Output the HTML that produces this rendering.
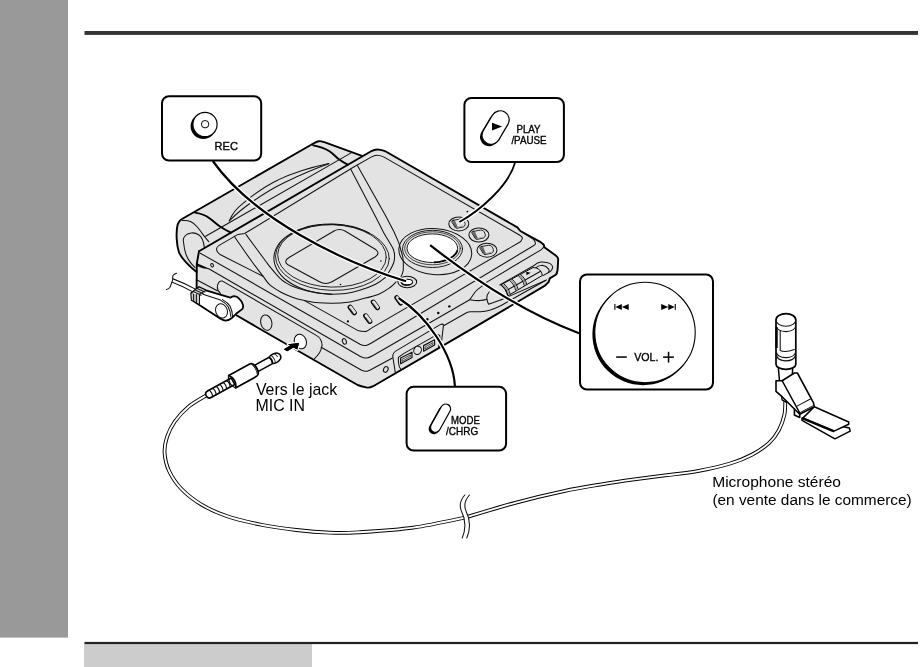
<!DOCTYPE html>
<html lang="fr">
<head>
<meta charset="utf-8">
<title>Microphone stéréo</title>
<style>
html,body{margin:0;padding:0;background:#fff;}
body{width:922px;height:667px;overflow:hidden;position:relative;font-family:"Liberation Sans",sans-serif;}
#side{position:absolute;left:0;top:0;width:68px;height:637px;background:#999;}
#tab{position:absolute;left:84px;top:644px;width:228px;height:23px;background:#ccc;}
svg{position:absolute;left:0;top:0;will-change:transform;}
.t{font-family:"Liberation Sans",sans-serif;fill:#000;}
.lbl{font-family:"Liberation Sans",sans-serif;fill:#000;stroke:#000;stroke-width:.35;}
.k{stroke:#000;stroke-width:1.9;fill:none;stroke-linecap:round;stroke-linejoin:round;}
.m{stroke:#000;stroke-width:1.4;fill:none;stroke-linecap:round;stroke-linejoin:round;}
.n{stroke:#111;stroke-width:1.05;fill:none;stroke-linecap:round;stroke-linejoin:round;}
.g{fill:#e3e3e3;}
.w{fill:#fff;}
.box{fill:#fff;stroke:#000;stroke-width:2;}
.halo{stroke:#fff;stroke-width:4.8;fill:none;}
</style>
</head>
<body>
<div id="side"></div>
<div id="tab"></div>
<svg width="922" height="667" viewBox="0 0 922 667">
<rect x="0" y="636" width="68" height="1.6" fill="#999"/>
<rect x="84.5" y="31" width="833.5" height="3.9" fill="#333"/>
<rect x="84.5" y="641.9" width="833.5" height="2.2" fill="#222"/>
<g id="device">
<!-- back part fill -->
<path class="g" d="M196.6,272 C190,267 181,258 178.9,252 C176.5,245 175.8,232 177.6,224.7 C178.5,222 180,220 182,219 L311.2,144.8 C314,143 316.5,141.4 319,141.2 C321,141 322.5,141.6 324.3,142.2 L362,155.8 L366,160 L199,252 Z"/>
<!-- main body fill -->
<path class="g" id="bodyfill" d="M199,251.3 L371.1,151.3 C374,149.6 376.5,149.2 378.9,149.6 C381.5,150 383.5,150.4 385.4,151.3 L517.4,227.4 L520.4,231 L540.2,241.8 L543.8,244.8 L544.4,247.2 L555.8,255.6 C557.5,257 558.2,258 558.2,259.2 L557.6,270 C557.2,272.5 556.6,274 555.8,274.8 L549.8,278.4 L548.6,282 L545,285.6 L476.9,325.9 L373.2,386.2 C370.5,387.6 368.4,388 366,387.4 L357.6,385 L260,329 L236.8,315.5 L196.6,287.5 L196.6,263.7 Z"/>
<!-- back part outline -->
<path class="k" d="M196.6,272 C190,267 181,258 178.9,252 C176.5,245 175.8,232 177.6,224.7 C178.5,222 180,220 182,219 L311.2,144.8 C314,143 316.5,141.4 319,141.2 C321,141 322.5,141.6 324.3,142.2 L362,155.8"/>
<!-- cylinder band thick curve left -->
<path class="k" style="stroke-width:1.9" d="M195.1,212.6 C201,213.5 206,215.5 209.5,218.2 C214,221.5 217,224.5 221.2,227.3 C224,229.2 227.5,231 230.9,232.6"/>
<!-- cylinder band thick curve right -->
<path class="k" style="stroke-width:1.9" d="M313.2,145.4 C320,146.5 325,148.5 329.5,151.3 C333,153.5 335.5,156.5 338.6,159.1 C341.5,161.3 344.5,163.2 347.7,164.7"/>
<!-- thin companion curves -->
<path class="n" d="M182.3,220.6 C186,220.3 189,220.9 191,221.8 C193.5,223 195.5,224.8 197.3,227 C199.8,230 201.8,232.8 203.6,235.4 C205.5,237.8 207.3,239.8 208.8,241.7"/>
<!-- inner ellipse on cylinder end -->
<path class="n" d="M204.3,247.4 C203.8,243 202,237 199,235 C196,233 193.5,232.6 191.2,233 C188.5,233.5 186.5,234.3 185.4,235.5 C183.5,237.5 183,239.5 183.4,241.5 C184,247 184.8,251 186,254.5 C188,259.5 191,264 195.1,267.6"/>
<!-- thin straight line along back part -->
<path class="n" d="M205.6,236.3 L351.6,152.6"/>
<!-- swoosh -->
<path class="n" d="M229.3,220.9 C232,214 237,208 243,203.4 C253,195 265,186 278.1,179.9 C291,173.5 305,168.5 328.8,163.4"/>
<path class="n" d="M229.3,220.9 C236,214 244,207.5 252,202 C262,195 273,188 284.6,182.5 C297,176.5 311,170 328.8,163.8"/>
<!-- lid outline -->
<path class="k" d="M199,251.3 L371.1,151.3 C374,149.6 376.5,149.2 378.9,149.6 C381.5,150 383.5,150.4 385.4,151.3 L517.4,227.4 L520.4,231 L540.2,241.8 L543.8,244.8 L544.4,247.2 L555.8,255.6 C557.5,257 558.2,258 558.2,259.2 L557.6,270 C557.2,272.5 556.6,274 555.8,274.8 L549.8,278.4 L548.6,282 L545,285.6 L476.9,325.9 L373.2,386.2 C370.5,387.6 368.4,388 366,387.4 C363,386.8 360,386 357.6,385 L260,329 L236.8,315.5"/>
<path class="k" d="M199,251.3 L196.8,263.7 L196.6,288"/>
<!-- gap wedge on left side -->
<path d="M197,263.6 L208.8,268.8 L203,268 L197,265.8 Z" fill="#000" stroke="#000" stroke-width=".6"/>
<!-- inner border of top face -->
<path class="n" d="M263,276.3 L222.5,255.8 C219,254 216.3,251.5 216.6,248.7 C216.9,246.8 218.5,245.5 221.2,244.1 L238.1,234.4 L244.6,233.5 L352.9,167.5 L371.1,157.1 C374,155.4 376,155 377.6,155.2 C380,155.4 382,156 384.1,157.1 L519.8,235.2 C522,236.6 522.8,237.8 522.2,238.8 C521.8,240 521,241 520.4,241.8 L371,328.4 C368.5,330.2 367,331.8 364.8,331.6 C362.5,331.4 360,331 357.6,330.4 L304.5,300.6"/>
<!-- C2 top face front edge -->
<path class="n" d="M200.3,253.2 L360,344.2 C362.5,345.4 364,345.8 366,345.4 C367.5,345 369,344.5 371,343.3 L533,246 C535,244.8 535.8,243.8 535.4,243 C535,241.5 534.5,240.5 533.6,239.4 L521,231.6"/>
<!-- C3 lid bottom -->
<path class="n" d="M208.8,268.8 L360,356.2 C363,357.8 365,358.4 367.2,358 C369,357.6 371,356.6 373,355.5 L469.7,299.7 C472,297 473.5,294 475.1,292 C477,289.8 479,288.2 481.4,286.6 L486.8,282.1 L541.4,249.6 C543,248.4 543.9,246.8 543.8,245.4"/>
<!-- C4 body line -->
<path class="n" d="M196.6,279.8 L217.3,290.8 M321.2,347.3 L361.2,370 C363.5,371.2 365.3,371.6 367.2,371.2 C369,370.6 371,369.6 373,368.5 L392.4,358 M443.6,325.8 L466,313 C468,312 469.5,311.8 470.6,311.8 L480.5,311.8 C484,311.6 487,311 490.4,310 C494,308.8 497.5,307.3 501.2,305.5 L520,294.7 L545.5,280.5"/>
<!-- finger recess -->
<path class="n" d="M469.7,299.7 C473,300.3 476,300.6 479.6,300.6 C482,300.4 484.5,300 486.8,299.2"/>
<path class="n" d="M489.1,292 C487.3,294 486.6,296 486.8,298.3 C487,300.5 487.6,302.5 488.6,304.2 L501.2,299.7"/>
<!-- V groove / ring -->
<path class="n" d="M369.4,233.2 C368.0,232.6 364.1,230.6 361.2,229.5 C358.4,228.4 355.3,227.4 352.2,226.6 C349.1,225.9 345.8,225.2 342.5,224.8 C339.2,224.4 335.9,224.1 332.5,224.0 C329.2,223.9 325.8,224.0 322.5,224.3 C319.2,224.5 315.9,225.0 312.7,225.6 C309.6,226.2 306.5,227.0 303.6,228.0 C300.6,228.9 297.8,230.0 295.2,231.3 C292.6,232.5 290.2,233.9 288.0,235.4 C285.8,236.9 283.8,238.5 282.1,240.2 C280.4,242.0 278.9,243.8 277.7,245.7 C276.5,247.6 275.6,249.5 275.0,251.5 C274.3,253.5 274.0,255.6 273.9,257.6 C273.9,259.6 274.1,261.7 274.6,263.7 C275.2,265.7 276.0,267.7 277.1,269.7 C278.2,271.6 279.6,273.5 281.2,275.3 C282.8,277.1 284.7,278.9 286.8,280.5 C288.9,282.1 291.3,283.6 293.8,285.0 C296.3,286.4 299.1,287.6 302.0,288.7 C304.8,289.8 307.9,290.8 311.0,291.6 C314.1,292.3 317.4,293.0 320.7,293.4 C324.0,293.8 326.5,294.2 330.7,294.2 C334.8,294.2 340.8,294.0 345.6,293.4 C350.5,292.7 354.8,291.7 359.6,290.2 C364.5,288.8 370.8,286.6 375.0,284.5 C379.2,282.4 382.2,280.1 384.8,277.8 C387.2,275.4 388.5,272.7 390.0,270.2 C391.5,267.8 392.8,265.2 393.6,263.0 C394.4,260.8 394.6,259.0 394.6,256.8 C394.6,254.6 394.4,252.2 393.6,250.0 C392.8,247.8 391.7,246.3 390.0,243.3 C388.3,240.3 385.9,236.7 383.3,232.0 C380.8,227.3 380.1,225.4 374.7,215.0 C369.3,204.6 354.9,177.1 350.9,169.5"/>
<path class="n" d="M234.2,236.3 C237.2,240.6 247.4,255.4 252.2,262.0 C257.0,268.6 260.1,272.3 263.0,276.1 C265.9,279.9 266.6,282.0 269.6,284.7 C272.6,287.4 277.2,290.2 281.0,292.3 C284.8,294.4 288.5,295.8 292.4,297.2 C296.3,298.6 300.7,299.7 304.5,300.6 C308.3,301.5 310.6,302.1 315.2,302.5 C319.8,302.9 326.2,303.4 332.0,303.3 C337.8,303.2 345.3,302.6 350.0,302.0 C354.7,301.4 355.2,300.8 360.0,299.5 C364.8,298.2 373.8,296.2 378.8,294.2 C383.8,292.2 387.1,289.6 390.0,287.5 C392.9,285.4 395.0,282.8 396.0,281.9"/>
<path class="n" d="M357.4,165.6 L385.2,215 L394.1,232 L398.6,242.4 C399.6,245 400.3,247.5 400.8,250 C401.8,253 402.6,256 403.1,259 C403.4,263 403.4,267 403.2,270.5 C402.8,273 402,275 401,276.5"/>
<path class="n" d="M245.9,234.4 C249.3,239.0 262.1,256.4 266.3,262.0 C270.5,267.6 268.9,265.5 271.1,268.2 C273.4,270.9 277.6,275.9 279.8,278.2 C282.1,280.5 282.5,280.7 284.6,282.0 C286.7,283.3 288.6,284.7 292.4,286.2 C296.2,287.7 302.6,289.8 307.6,291.0 C312.7,292.2 318.6,293.1 322.7,293.6 C326.8,294.1 330.4,294.1 332.0,294.2"/>
<!-- disc ring ellipses -->
<ellipse class="n" cx="332.4" cy="257.4" rx="56.9" ry="33" transform="rotate(1.5 332.4 257.4)" style="stroke-width:.9"/>
<ellipse class="n" cx="332" cy="255.9" rx="54.3" ry="31.2" transform="rotate(1.5 332 255.9)" style="stroke-width:.9"/>
<!-- window -->
<path class="n" d="M334,231 L289,257.5 C285,260 284.5,262.5 288,264.8 L319.5,281.8 C323.5,284 328,284 332,281.8 L375,257 C378.5,254.8 379,252 376,249.8 L345,231 C341.5,229 337.5,229 334,231 Z"/>
<circle cx="380.9" cy="261" r=".8" fill="#000"/><circle cx="340.5" cy="284.5" r=".8" fill="#000"/>
<!-- jog dial -->
<ellipse class="n" cx="435.3" cy="251.6" rx="36.5" ry="23" transform="rotate(5 435.3 251.6)"/>
<ellipse class="n" cx="432.5" cy="248.9" rx="30" ry="18.6" style="stroke-width:.95"/>
<ellipse class="n" cx="432.5" cy="248.3" rx="27.8" ry="16.5" style="stroke-width:.75"/>
<ellipse class="w" cx="432.3" cy="248.2" rx="25.3" ry="14.3" stroke="#000" stroke-width=".9"/>
<path d="M457.4,250.5 C456,256 447,261.5 434,262.4" fill="none" stroke="#000" stroke-width="1.7"/>
<!-- buttons -->

<g transform="translate(458.8 223.9)">
<ellipse class="n" cx="0" cy="0" rx="10" ry="7" style="fill:#e3e3e3"/>
<path class="n" d="M-5.6,-3.6 L1.4,-4.9 C3.8,-5.1 5.2,-3.8 5.8,-2 C6.3,-0.6 6.6,0.1 6.4,0.8 C6.2,1.9 5.5,2.7 4.6,3 L-2,4.4 C-2.9,4.4 -3.4,4 -3.7,3.4 L-7,-2 C-7.3,-3 -6.6,-3.5 -5.6,-3.6 Z" style="stroke-width:.9"/>
<path d="M-6.3,-2.9 L-3,3.5 M-5.4,-3.3 L-2.2,3.7 M-4.5,-3.5 L-1.5,3.3" stroke="#222" stroke-width=".7" fill="none"/>
<path d="M-1.8,3.5 L4.4,2.1" stroke="#888" stroke-width=".6" fill="none"/>
</g><g transform="translate(478.9 235)">
<ellipse class="n" cx="0" cy="0" rx="10" ry="7" style="fill:#e3e3e3"/>
<path class="n" d="M-5.6,-3.6 L1.4,-4.9 C3.8,-5.1 5.2,-3.8 5.8,-2 C6.3,-0.6 6.6,0.1 6.4,0.8 C6.2,1.9 5.5,2.7 4.6,3 L-2,4.4 C-2.9,4.4 -3.4,4 -3.7,3.4 L-7,-2 C-7.3,-3 -6.6,-3.5 -5.6,-3.6 Z" style="stroke-width:.9"/>
<path d="M-6.3,-2.9 L-3,3.5 M-5.4,-3.3 L-2.2,3.7 M-4.5,-3.5 L-1.5,3.3" stroke="#222" stroke-width=".7" fill="none"/>
<path d="M-1.8,3.5 L4.4,2.1" stroke="#888" stroke-width=".6" fill="none"/>
</g><g transform="translate(487 250.2)">
<ellipse class="n" cx="0" cy="0" rx="10" ry="7" style="fill:#e3e3e3"/>
<path class="n" d="M-5.6,-3.6 L1.4,-4.9 C3.8,-5.1 5.2,-3.8 5.8,-2 C6.3,-0.6 6.6,0.1 6.4,0.8 C6.2,1.9 5.5,2.7 4.6,3 L-2,4.4 C-2.9,4.4 -3.4,4 -3.7,3.4 L-7,-2 C-7.3,-3 -6.6,-3.5 -5.6,-3.6 Z" style="stroke-width:.9"/>
<path d="M-6.3,-2.9 L-3,3.5 M-5.4,-3.3 L-2.2,3.7 M-4.5,-3.5 L-1.5,3.3" stroke="#222" stroke-width=".7" fill="none"/>
<path d="M-1.8,3.5 L4.4,2.1" stroke="#888" stroke-width=".6" fill="none"/>
</g>
<!-- REC button -->
<ellipse class="n" cx="407.3" cy="282" rx="9.4" ry="5.7" style="fill:#e3e3e3"/>
<ellipse cx="406.6" cy="282.6" rx="5.9" ry="3.3" fill="#222"/>
<ellipse class="n" cx="407.2" cy="282" rx="5.4" ry="2.8" style="stroke-width:1.1;fill:#fff"/>
<!-- MODE button -->
<path d="M396.6,297.6 L400.8,303.2" stroke="#000" stroke-width="4.8" stroke-linecap="round" fill="none"/>
<path d="M397.1,297.5 L401.1,302.7" stroke="#e3e3e3" stroke-width="2.8" stroke-linecap="round" fill="none"/>
<path d="M395.5,299.2 L399.2,304.2" stroke="#222" stroke-width=".8" fill="none"/>
<!-- small pill buttons -->

<g transform="translate(352.2 310)"><path d="M-2.1,-2.8 L2.1,2.8" stroke="#000" stroke-width="5" stroke-linecap="round" fill="none"/><path d="M-1.7,-2.9 L2.3,2.4" stroke="#e3e3e3" stroke-width="3" stroke-linecap="round" fill="none"/><path d="M-3.3,-1.2 L0.4,3.9 M-2.5,-1.8 L1.3,3.4" stroke="#222" stroke-width=".7" fill="none"/></g><g transform="translate(367.7 318.6)"><path d="M-2.1,-2.8 L2.1,2.8" stroke="#000" stroke-width="5" stroke-linecap="round" fill="none"/><path d="M-1.7,-2.9 L2.3,2.4" stroke="#e3e3e3" stroke-width="3" stroke-linecap="round" fill="none"/><path d="M-3.3,-1.2 L0.4,3.9 M-2.5,-1.8 L1.3,3.4" stroke="#222" stroke-width=".7" fill="none"/></g><g transform="translate(375.3 304.9)"><path d="M-2.1,-2.8 L2.1,2.8" stroke="#000" stroke-width="5" stroke-linecap="round" fill="none"/><path d="M-1.7,-2.9 L2.3,2.4" stroke="#e3e3e3" stroke-width="3" stroke-linecap="round" fill="none"/><path d="M-3.3,-1.2 L0.4,3.9 M-2.5,-1.8 L1.3,3.4" stroke="#222" stroke-width=".7" fill="none"/></g>
<!-- dots and screws -->
<g fill="#000"><circle cx="347.9" cy="321.4" r="1.1"/><circle cx="427.3" cy="319.2" r="1.2"/><circle cx="438.3" cy="313" r="1.2"/><circle cx="449.4" cy="306.4" r="1.2"/><circle cx="467.4" cy="211.6" r=".9"/></g>
<ellipse class="n" cx="212.1" cy="265.2" rx="1.3" ry="1.8" transform="rotate(-20 212.1 265.2)"/>
<ellipse class="n" cx="344.4" cy="341.4" rx="1.9" ry="2.9" transform="rotate(-20 344.4 341.4)"/>
<ellipse class="n" cx="385.8" cy="369.4" rx="2.2" ry="3" transform="rotate(25 385.8 369.4)"/>
<!-- jacks -->
<ellipse class="n" cx="266.3" cy="322.6" rx="5.5" ry="7.8" transform="rotate(-15 266.3 322.6)"/>
<!-- recess -->
<path class="n" d="M220.5,293.4 C217.5,291 217,288 217.5,285.5 C218,282.5 220,280.5 222.5,281.1 L315.9,335.1 C318.5,336.5 320,338 320.8,340 C322,342.5 322.3,344.5 321.8,346.5 C321.3,349 320.5,351 319.5,352.8 C318,355 316.5,357 314.5,358.6"/>
<ellipse class="w" cx="300.4" cy="341.5" rx="5.9" ry="7.5" transform="rotate(-20 300.4 341.5)" stroke="#000" stroke-width="1"/>
<!-- arrow -->
<path d="M283.8,349.3 L290.2,345.4 L287.9,344.2 L299,342.9 L297.3,349.6 L293.5,347.5 L287.2,351.2 Z" fill="#000" stroke="#fff" stroke-width="2.6" stroke-linejoin="round" paint-order="stroke"/>
<path d="M283.8,349.3 L290.2,345.4 L287.9,344.2 L299,342.9 L297.3,349.6 L293.5,347.5 L287.2,351.2 Z" fill="#000"/>
<!-- connector plate -->
<path class="n" d="M395.3,372.5 L392.7,356 C393,353 394.5,351.5 397.3,350.1 L440.2,324.6 C441.8,323.8 443,324 443.5,325 L441.5,341.7 L439,347.5" fill="#e3e3e3"/>
<path class="n" d="M400.6,369 C398.8,366.5 398.2,361 398.4,357.4 L404,353.4 L437.5,334.4 L439.8,335.4 C440.2,339.5 439.8,343.5 438.6,346.4"/>
<path class="n" d="M400.6,358 L412,352.2 L412,357.4 L400.6,363.8 Z" style="stroke-width:1.2"/><path class="n" d="M402.4,359.2 L410.4,355 L410.4,356.6 L402.4,361.2 Z" style="stroke-width:.7"/>
<path class="n" d="M423.6,345.6 L434.6,339.8 L434.6,345 L423.6,351.2 Z" style="stroke-width:1.2"/><path class="n" d="M425.4,346.8 L433,342.6 L433,344.2 L425.4,348.8 Z" style="stroke-width:.7"/>
<ellipse class="n" cx="417.6" cy="350.3" rx="3.7" ry="4.3" transform="rotate(25 417.6 350.3)"/>
<!-- slide switch -->
<path class="n" d="M499.8,284.9 L534.5,265.2 C536.5,263.2 538.5,262.2 540.8,262 C544.5,261.8 548,262.4 550.2,263.6 C552,264.8 552.8,266.2 552.6,267.6 C552.3,269.3 551.4,270.6 550.2,271.5 L543,275.6"/>
<path class="n" d="M536,267.6 C538,266 540,265.2 542.4,265.2 C545,265.6 547.2,267 548.7,269.1 C549.3,270.2 549.2,271.3 548.6,272.2"/>
<path d="M500.6,285 L532.9,267.6 C535.5,267.4 537.8,268.4 539.4,269.8 C540.8,271 541.8,272.8 542.4,275.4 L507.7,295.9 C506.8,291.5 504.2,287.5 500.6,285 Z" fill="#e3e3e3" stroke="#000" stroke-width="1" stroke-linejoin="round"/>
<path class="n" d="M506.3,290.6 L540.6,271.3"/>
<path d="M501.6,285 C504.6,287.3 506.8,291 507.9,295.3 M504,284 C507,286.5 509.2,290 510.2,294.2" stroke="#000" stroke-width=".9" fill="none"/>
<path d="M509.5,280.4 C512.5,282.8 514.8,286.5 515.8,290.6 M512,279.2 C515,281.6 517.2,285.2 518.2,289.4" stroke="#000" stroke-width=".9" fill="none"/>
<path d="M518.2,275.6 C521.2,278 523.4,281.6 524.4,285.8 M520.6,274.4 C523.6,276.8 525.8,280.4 526.8,284.6" stroke="#000" stroke-width=".9" fill="none"/>
<path d="M502.8,284.6 C505.8,287 508,290.6 509,294.8 M510.8,279.9 C513.8,282.3 516,285.9 517,290.1 M519.4,275 C522.4,277.4 524.6,281 525.6,285.2" stroke="#999" stroke-width="1.2" fill="none"/>
<path d="M526.2,271.8 L526.5,275.2 L530.6,272.8 Z" fill="#000"/>
<!-- under slider -->
<path class="n" d="M501.2,299.7 L546.5,279.9"/>
</g>

<g id="cable">
<path d="M206.3,395.4 C203.3,397.3 193.6,402.5 188.3,406.9 C183.1,411.2 178.4,416.4 174.8,421.5 C171.2,426.6 168.6,432.1 166.9,437.3 C165.2,442.6 164.2,447.4 164.6,453.0 C165.0,458.6 166.3,465.0 169.1,471.0 C171.9,477.0 176.1,483.4 181.5,489.0 C186.9,494.6 194.3,500.3 201.8,504.8 C209.3,509.3 216.4,512.6 226.5,516.0 C236.6,519.4 250.9,522.7 262.5,525.0 C274.1,527.3 285.1,528.7 296.3,530.0 C307.6,531.3 319.6,532.3 330.0,532.7 C340.4,533.1 344.8,533.1 358.7,532.3 C372.6,531.4 395.5,530.1 413.3,527.6 C431.1,525.1 456.8,519.2 465.5,517.5" fill="none" stroke="#000" stroke-width="3.8"/>
<path d="M206.3,395.4 C203.3,397.3 193.6,402.5 188.3,406.9 C183.1,411.2 178.4,416.4 174.8,421.5 C171.2,426.6 168.6,432.1 166.9,437.3 C165.2,442.6 164.2,447.4 164.6,453.0 C165.0,458.6 166.3,465.0 169.1,471.0 C171.9,477.0 176.1,483.4 181.5,489.0 C186.9,494.6 194.3,500.3 201.8,504.8 C209.3,509.3 216.4,512.6 226.5,516.0 C236.6,519.4 250.9,522.7 262.5,525.0 C274.1,527.3 285.1,528.7 296.3,530.0 C307.6,531.3 319.6,532.3 330.0,532.7 C340.4,533.1 344.8,533.1 358.7,532.3 C372.6,531.4 395.5,530.1 413.3,527.6 C431.1,525.1 456.8,519.2 465.5,517.5" fill="none" stroke="#fff" stroke-width="1.9"/>
<path d="M465.5,517.5 C473.8,515.0 498.8,507.2 515.2,502.8 C531.6,498.4 549.9,494.1 564.0,491.1 C578.1,488.1 588.6,486.5 600.0,484.6 C611.4,482.7 621.6,481.1 632.5,479.6 C643.4,478.1 654.2,476.8 665.1,475.4 C676.0,474.0 686.8,473.1 697.6,471.1 C708.5,469.1 721.2,466.2 730.2,463.5 C739.2,460.8 745.3,458.2 751.8,454.8 C758.3,451.4 764.7,447.0 769.2,442.9 C773.7,438.8 776.5,434.6 779.0,429.9 C781.5,425.2 783.4,419.4 784.4,414.7 C785.4,410.0 785.1,403.7 785.3,401.5" fill="none" stroke="#000" stroke-width="3.8"/>
<path d="M465.5,517.5 C473.8,515.0 498.8,507.2 515.2,502.8 C531.6,498.4 549.9,494.1 564.0,491.1 C578.1,488.1 588.6,486.5 600.0,484.6 C611.4,482.7 621.6,481.1 632.5,479.6 C643.4,478.1 654.2,476.8 665.1,475.4 C676.0,474.0 686.8,473.1 697.6,471.1 C708.5,469.1 721.2,466.2 730.2,463.5 C739.2,460.8 745.3,458.2 751.8,454.8 C758.3,451.4 764.7,447.0 769.2,442.9 C773.7,438.8 776.5,434.6 779.0,429.9 C781.5,425.2 783.4,419.4 784.4,414.7 C785.4,410.0 785.1,403.7 785.3,401.5" fill="none" stroke="#fff" stroke-width="1.9"/>
<path d="M464.8,495 L469.4,495 C465,500 463.5,505 466,511 C469.5,518 471,528 466.8,538 L462.2,538 C466.4,528 464.9,518 461.4,511 C458.9,505 460.4,500 464.8,495 Z" fill="#fff"/>
<path class="n" d="M464.8,495 C460.4,500 458.9,505 461.4,511 C464.9,518 466.4,528 462.2,538"/>
<path class="n" d="M469.4,495 C465,500 463.5,505 466,511 C469.5,518 471,528 466.8,538"/>
<path d="M172.4,280.4 C180,283.2 188,287 196,291.5" fill="none" stroke="#000" stroke-width="4.4"/>
<path d="M171.5,280.1 C180,283.2 188,287 196,291.5" fill="none" stroke="#fff" stroke-width="2.6"/>
<path class="n" d="M176.6,273.3 C173.5,274.3 172.4,275.5 172.7,277.5 C173,279.5 172.5,281 171.7,282.8 C170.8,285 170.5,286.5 169.8,287.5 C168.8,288.8 167.5,289.3 166.3,289.4"/>
<!-- L plug -->
<path d="M191.2,293.3 L199,287 L205.9,290.4 L230.3,297.7 C231.5,296.8 232.8,296.3 234.2,296.2 C236,296.3 237.7,297.2 239.1,298.7 C241.2,300.7 242.6,302.8 243,305 C243.3,306.5 243.1,307.8 242.5,308.9 L236.1,313.8 L232.2,317.7 C230,319.5 227.5,320.6 225.4,320.6 C223.5,320.3 222,319.7 220.5,318.7 L191.7,300.1 Z" fill="#fff" stroke="#000" stroke-width="1.8" stroke-linejoin="round"/>
<path d="M191.4,293.6 L199.3,294.6 L199.4,303.6 L191.9,299.9 Z" fill="#cfcfcf"/>
<path d="M192.2,292.6 L199.6,294.3 L205.4,290.6 L199,287.4 Z" fill="#e6e6e6"/>
<path class="n" d="M199.5,294.3 L199.5,304.3 M199.5,294.3 L205.9,290.4 M193.3,291.6 L201.2,295.3 M195.3,290 L203.2,293.7 M197.2,288.5 L204.9,292 M193.6,294 L193.6,301 M196.4,294.4 L196.4,302.4"/>
<path class="n" d="M203,294.3 L220.5,300.1 C224,302 226.5,304 228.3,307 C229.8,310 230.6,313 230.8,316.5"/>
<path class="n" d="M222.5,299.6 C226,301.5 228.5,303.6 230.2,306.5 C231.7,309.5 232.4,312.5 232.6,316.5"/>
<ellipse class="n" cx="221.5" cy="310.9" rx="5.8" ry="7.3" transform="rotate(-20 221.5 310.9)" style="fill:#fff"/>
<!-- 3.5mm plug -->
<g transform="translate(280.3 355.2) rotate(-28.8)">
<!-- strain relief -->
<path d="M-54,-3.7 L-81,-3.7 C-83.5,-3.7 -84.5,-2 -84.5,0 C-84.5,2 -83.5,3.7 -81,3.7 L-54,3.7 Z" fill="#fff" stroke="#000" stroke-width="1.6" stroke-linejoin="round"/>
<path class="n" d="M-79.5,-3.7 C-78,-2 -78,2 -79.5,3.7 M-75.5,-3.7 C-74,-2 -74,2 -75.5,3.7 M-71.5,-3.7 C-70,-2 -70,2 -71.5,3.7 M-67.5,-3.7 C-66,-2 -66,2 -67.5,3.7 M-63.5,-3.7 C-62,-2 -62,2 -63.5,3.7 M-59.5,-3.7 C-58,-2 -58,2 -59.5,3.7" style="stroke-width:1.2"/>
<!-- shaft -->
<path d="M-27,-3.6 L-10.8,-3.6 C-9.8,-2 -9.8,2 -10.8,3.6 L-27,3.6 Z" fill="#fff" stroke="#000" stroke-width="1.5" stroke-linejoin="round"/>
<!-- bulb -->
<path d="M-10.6,-3.3 C-9.6,-4.7 -6,-4.9 -3.5,-4.2 C-1,-3.4 0,-1.8 0,0 C0,1.8 -1,3.4 -3.5,4.2 C-6,4.9 -9.6,4.7 -10.6,3.3 C-9.7,1.5 -9.7,-1.5 -10.6,-3.3 Z" fill="#fff" stroke="#000" stroke-width="1.5" stroke-linejoin="round"/>
<path class="n" d="M-8.2,-4.4 C-6.8,-2.5 -6.8,2.5 -8.2,4.4 M-4.4,-4 C-3.6,-3 -3.2,-1.5 -3.2,-0.2" style="stroke-width:.9"/>
<!-- barrel -->
<path d="M-55,-7.1 L-31,-7.1 C-28.2,-6.9 -27,-3.8 -27,0 C-27,3.8 -28.2,6.9 -31,7.1 L-55,7.1 C-52.8,4.6 -52.3,2 -52.3,0 C-52.3,-2 -52.8,-4.6 -55,-7.1 Z" fill="#fff" stroke="#000" stroke-width="1.7" stroke-linejoin="round"/>
<path class="n" d="M-55,-7.1 C-57.2,-4.6 -57.7,-2 -57.7,0 C-57.7,2 -57.2,4.6 -55,7.1" style="stroke-width:1.5"/>
<path class="n" d="M-29.4,-5.6 C-28,-3 -28,3 -29.4,5.6" style="stroke-width:.9"/>
</g>
</g>

<g id="mic">
<!-- clip plates -->
<path d="M802,420.4 L802,418 L849.4,428.1 L850.2,431.1 L834.9,438.8 Z" fill="#fff" stroke="#000" stroke-width="1.5" stroke-linejoin="round"/>
<path d="M802.8,418.1 L814.3,406.7 L848.7,422 L848.7,424.3 L834.1,431.1 Z" fill="#fff" stroke="#000" stroke-width="1.5" stroke-linejoin="round"/>
<path d="M802.8,418.3 L834.1,431.3" stroke="#000" stroke-width="2.4" fill="none"/>
<!-- neck -->
<path d="M778.2,366 L779.5,381 L792,381 L792.8,366 Z" fill="#fff" stroke="#000" stroke-width="1.5"/>
<!-- cable tab -->
<path d="M781.4,394 L782.1,399.8 L786,402.1 L788,398" fill="#fff" stroke="#000" stroke-width="1.4" stroke-linejoin="round"/>
<!-- bracket -->
<path d="M776,380.7 L782.1,380.7 L794.4,373 L797.4,373 L813.5,402.8 L814.3,406.7 L799.7,414.3 L799.7,417.5 L794.4,415.1 L794.4,409 L782.1,396.7 L776,391.4 Z" fill="#fff" stroke="#000" stroke-width="1.6" stroke-linejoin="round"/>
<path class="m" d="M782.1,380.7 L799.7,412.8 M794.4,409 L799.7,414.3"/>
<path class="n" d="M797.4,405.9 L810.4,399 M800.5,412.4 L813.9,405.4"/>
<!-- capsule -->
<path d="M776,319.9 L776,364.3 C776,367 780,369.4 785.9,369.4 C791.8,369.4 795.8,367 795.8,364.3 L795.8,319.9 C795.8,316.4 791.4,313.6 785.9,313.6 C780.4,313.6 776,316.4 776,319.9 Z" fill="#fff" stroke="#000" stroke-width="1.7"/>
<path class="n" d="M776,319.9 C776,323.4 780.4,326.2 785.9,326.2 C791.4,326.2 795.8,323.4 795.8,319.9"/>
<path class="n" d="M776,325.5 C776,329 780.4,331.6 785.9,331.6 C791.4,331.6 795.8,329 795.8,325.5"/>
<path class="n" d="M780.2,330.8 L780.2,350.5 C783,351.8 789,351.5 794.4,349.5"/>
<path class="n" d="M776.4,352 C777,355.5 781,357.6 785.9,357.6 C790.8,357.6 795,355.5 795.6,352"/>
<path class="n" d="M776.4,355.2 C777,358.7 781,360.8 785.9,360.8 C790.8,360.8 795,358.7 795.6,355.2" style="stroke-width:1.3"/>
<path d="M776.6,327 L776.6,348" stroke="#000" stroke-width="2.2" fill="none"/>
</g>

<g id="leaders">
<path class="halo" d="M212.8,161.0 C252.8,217.8 340.9,261.6 406.0,281.2"/>
<path class="k" style="stroke-width:2.2;stroke-linecap:butt" d="M212.8,161.0 C252.8,217.8 340.9,261.6 406.0,281.2"/>
<path class="halo" d="M514.9,163.0 C508.5,186.0 479.4,211.0 459.4,222.0"/>
<path class="k" style="stroke-width:1.8;stroke-linecap:butt" d="M514.9,163.0 C508.5,186.0 479.4,211.0 459.4,222.0"/>
<path class="halo" d="M430.1,245.2 C475.6,280.7 524.5,313.0 579.0,333.2"/>
<path class="k" style="stroke-width:2.2;stroke-linecap:butt" d="M430.1,245.2 C475.6,280.7 524.5,313.0 579.0,333.2"/>
<path class="halo" d="M398.6,298.0 C425.8,315.5 453.0,353.2 454.9,386.0"/>
<path class="k" style="stroke-width:2.2;stroke-linecap:butt" d="M398.6,298.0 C425.8,315.5 453.0,353.2 454.9,386.0"/>
</g>

<!--BOXES-->
<g id="boxes">
<rect class="box" x="162" y="96.2" width="99.2" height="64.4" rx="7"/>
<rect class="box" x="464.4" y="98" width="99.5" height="64" rx="7"/>
<rect class="box" x="406.6" y="386.8" width="99.5" height="63.7" rx="7"/>
<rect class="box" x="580" y="274.5" width="133" height="115" rx="7"/>
</g>
<g id="boxicons">
<!-- REC icon -->
<circle cx="203.3" cy="126.2" r="12.7" fill="#000"/>
<circle cx="205" cy="124.5" r="12.1" fill="#fff" stroke="#000" stroke-width="1.2"/>
<circle cx="205.1" cy="124.2" r="3.7" fill="#fff" stroke="#000" stroke-width="1"/>
<!-- PLAY icon -->
<g transform="translate(495.8 127.2) rotate(-59.5)">
<rect x="-21" y="-9.9" width="36" height="18.4" rx="9.2" fill="#000"/>
<rect x="-18.4" y="-9" width="36" height="18" rx="9" fill="#fff" stroke="#000" stroke-width="1.2"/>
</g>
<path d="M492,122.8 L492,130.4 L502.2,126.6 Z" fill="#000"/>
<!-- MODE icon -->
<g transform="translate(441 417.4) rotate(-61)">
<rect x="-18.8" y="-5.9" width="30.6" height="10.6" rx="5.3" fill="#000"/>
<rect x="-16.4" y="-4.9" width="31" height="9.8" rx="4.9" fill="#fff" stroke="#000" stroke-width="1.2"/>
</g>
<!-- VOL icon -->
<circle cx="643.1" cy="334.5" r="50.7" fill="#000"/>
<circle cx="645" cy="332.5" r="50.2" fill="#fff" stroke="#000" stroke-width="1.1"/>
<g fill="#000" stroke="none">
<rect x="614.3" y="304" width="1.1" height="5.8"/>
<path d="M615.4,306.9 L621.8,303.9 L621.8,309.9 Z M621.8,306.9 L628.7,303.9 L628.7,309.9 Z"/>
<rect x="674.7" y="304" width="1.1" height="5.8"/>
<path d="M674.7,306.9 L668.3,303.9 L668.3,309.9 Z M668.3,306.9 L661.2,303.9 L661.2,309.9 Z"/>
<rect x="616.2" y="356.3" width="10.6" height="1.5"/>
<rect x="663.1" y="356.4" width="10.8" height="1.5"/>
<rect x="667.8" y="351.8" width="1.5" height="10.7"/>
</g>
</g>

<!--TEXT-->
<g id="labels">
<text class="t" x="255.9" y="395.2" font-size="15.9">Vers le jack</text>
<text class="t" x="255.6" y="411.4" font-size="15.9" textLength="49.4" lengthAdjust="spacing">MIC IN</text>
<text class="t" x="712.2" y="486.9" font-size="15.55">Microphone stéréo</text>
<text class="t" x="712.4" y="505.3" font-size="15.4">(en vente dans le commerce)</text>
<text class="lbl" x="214.6" y="150" font-size="11.3" textLength="23.4" lengthAdjust="spacingAndGlyphs">REC</text>
<text class="lbl" x="516.4" y="132.7" font-size="10.2" textLength="24.2" lengthAdjust="spacingAndGlyphs">PLAY</text>
<text class="lbl" x="511.4" y="143.6" font-size="10.4" textLength="35.2" lengthAdjust="spacingAndGlyphs">/PAUSE</text>
<text class="lbl" x="451.1" y="423.9" font-size="10.7" textLength="28.8" lengthAdjust="spacingAndGlyphs">MODE</text>
<text class="lbl" x="446" y="434.9" font-size="10.8" textLength="32.2" lengthAdjust="spacingAndGlyphs">/CHRG</text>
<text class="lbl" x="634.2" y="361.2" font-size="11" textLength="24.2" lengthAdjust="spacingAndGlyphs">VOL.</text>
</g>
</svg>
</body>
</html>
